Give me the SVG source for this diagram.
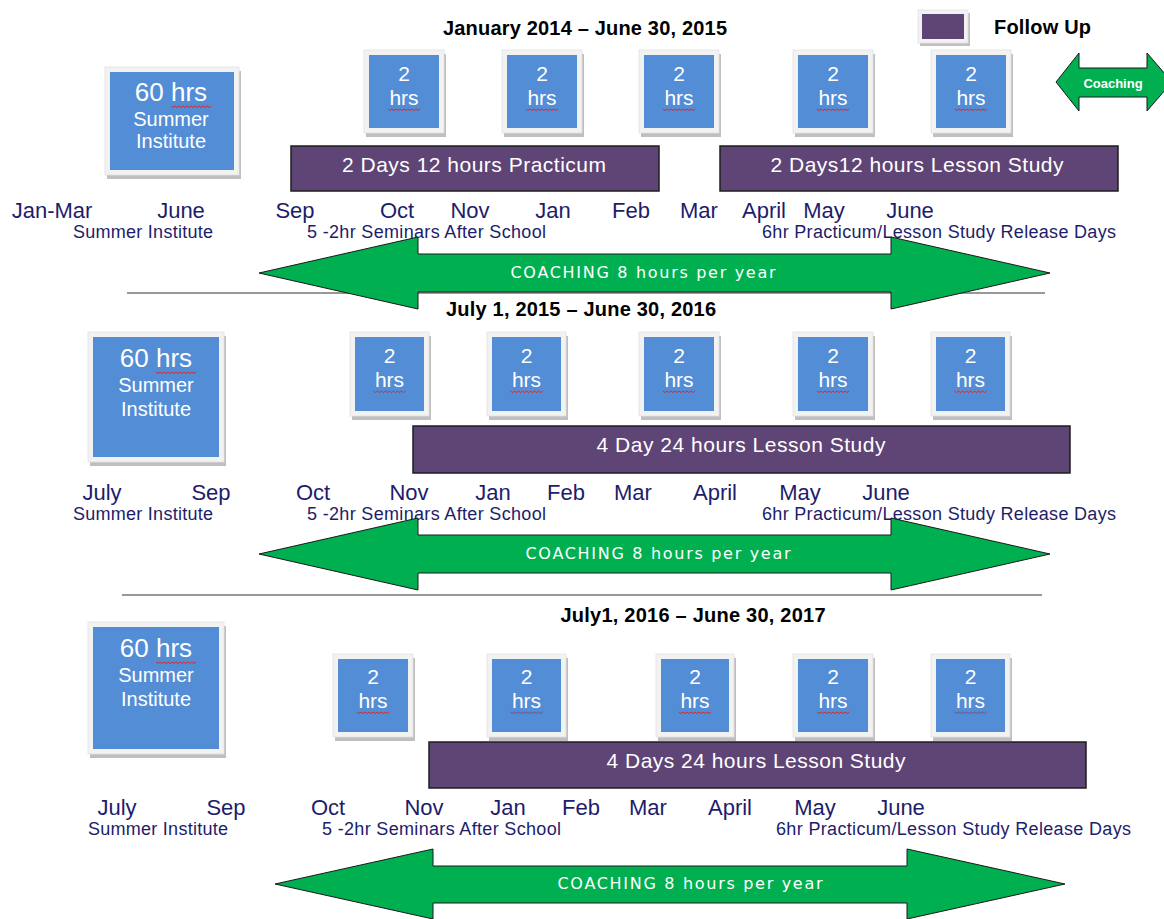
<svg xmlns="http://www.w3.org/2000/svg" xmlns:xlink="http://www.w3.org/1999/xlink" width="1164" height="919" viewBox="0 0 1164 919">
<style>
.shadow{fill:#bfbfbf}
.frame{fill:#f2f2f2;stroke:#e0e0e0;stroke-width:0.8}
.blue{fill:#538dd5}
.purple{fill:#5f4476;stroke:#1e1e1e;stroke-width:1.5}
.legend{fill:#5f4476}
.wt{fill:#fff;font-family:"Liberation Sans",Arial,sans-serif;text-anchor:middle}
.big{font-size:26px}
.mid{font-size:20px}
.two{font-size:21px}
.bar{font-size:21px}
.mon{fill:#1d1d6b;font-family:"Liberation Sans",Arial,sans-serif;font-size:22px;text-anchor:middle}
.sub{fill:#1d1d6b;font-family:"Liberation Sans",Arial,sans-serif;font-size:18px}
.ttl{fill:#000;font-family:"Liberation Sans",Arial,sans-serif;font-size:20px;font-weight:bold;text-anchor:middle}
.arrow{fill:#00b050;stroke:#1a1a1a;stroke-width:1}
.coach{fill:#fff;font-family:"Comic Sans MS","DejaVu Sans",sans-serif;font-size:16px;text-anchor:middle}
.sep{stroke:#333;stroke-width:1}
.wavy{fill:none;stroke:#e02828;stroke-width:1}
</style>
<defs>
<path id="wv" class="wavy" d="M0,0 l2,1.5 l2,-1.5 l2,1.5 l2,-1.5 l2,1.5 l2,-1.5 l2,1.5 l2,-1.5 l2,1.5 l2,-1.5 l2,1.5 l2,-1.5 l2,1.5 l2,-1.5 l2,1.5 l2,-1.5"/>
<path id="wv2" class="wavy" d="M0,0 l2,1.5 l2,-1.5 l2,1.5 l2,-1.5 l2,1.5 l2,-1.5 l2,1.5 l2,-1.5 l2,1.5 l2,-1.5 l2,1.5 l2,-1.5 l2,1.5 l2,-1.5 l2,1.5 l2,-1.5 l2,1.5 l2,-1.5 l2,1.5 l2,-1.5"/>
</defs>
<rect width="1164" height="919" fill="#fff"/>

<g id="connectors">
<line class="sep" x1="127" y1="293" x2="1045" y2="293"/>
<line class="sep" x1="122" y1="595" x2="1042" y2="595"/>
</g>

<g id="title1"><text class="ttl" x="585" y="35" textLength="284">January 2014 – June 30, 2015</text></g>
<g id="title2"><text class="ttl" x="581" y="316" textLength="270">July 1, 2015 – June 30, 2016</text></g>
<g id="title3"><text class="ttl" x="693" y="622" textLength="265">July1, 2016 – June 30, 2017</text></g>

<g id="legend-followup">
<rect class="shadow" x="920" y="13" width="50" height="33"/>
<rect class="frame" x="918" y="10" width="50" height="33"/>
<rect class="legend" x="922" y="14" width="42" height="25"/>
<text x="994" y="34" font-family="Liberation Sans, Arial, sans-serif" font-size="20" font-weight="bold" fill="#000" textLength="97">Follow Up</text>
</g>
<g id="legend-coaching">
<path class="arrow" d="M1056,82 L1079,53 L1079,68 L1147,68 L1147,53 L1172,82 L1147,111 L1147,97 L1079,97 L1079,111 Z"/>
<text x="1113" y="88" fill="#fff" font-family="Liberation Sans, Arial, sans-serif" font-size="13" font-weight="bold" text-anchor="middle">Coaching</text>
</g>

<g id="s1-summer">
<rect class="shadow" x="107" y="71" width="134" height="108"/>
<rect class="frame" x="105" y="67" width="134" height="108"/>
<rect class="blue" x="110" y="72" width="124" height="98"/>
<text class="wt big" x="171" y="101">60 hrs</text>
<use xlink:href="#wv2" x="171" y="106"/>
<text class="wt mid" x="171" y="126">Summer</text>
<text class="wt mid" x="171" y="148">Institute</text>
</g>
<g id="s1-b1"><rect class="shadow" x="366" y="54" width="80" height="83"/><rect class="frame" x="364" y="50" width="80" height="83"/><rect class="blue" x="369" y="55" width="70" height="73"/><text class="wt two" x="404" y="81">2</text><text class="wt two" x="404" y="105">hrs</text><use xlink:href="#wv" x="388" y="109"/></g>
<g id="s1-b2"><rect class="shadow" x="504" y="54" width="80" height="83"/><rect class="frame" x="502" y="50" width="80" height="83"/><rect class="blue" x="507" y="55" width="70" height="73"/><text class="wt two" x="542" y="81">2</text><text class="wt two" x="542" y="105">hrs</text><use xlink:href="#wv" x="526" y="109"/></g>
<g id="s1-b3"><rect class="shadow" x="641" y="54" width="80" height="83"/><rect class="frame" x="639" y="50" width="80" height="83"/><rect class="blue" x="644" y="55" width="70" height="73"/><text class="wt two" x="679" y="81">2</text><text class="wt two" x="679" y="105">hrs</text><use xlink:href="#wv" x="663" y="109"/></g>
<g id="s1-b4"><rect class="shadow" x="795" y="54" width="80" height="83"/><rect class="frame" x="793" y="50" width="80" height="83"/><rect class="blue" x="798" y="55" width="70" height="73"/><text class="wt two" x="833" y="81">2</text><text class="wt two" x="833" y="105">hrs</text><use xlink:href="#wv" x="817" y="109"/></g>
<g id="s1-b5"><rect class="shadow" x="933" y="54" width="80" height="83"/><rect class="frame" x="931" y="50" width="80" height="83"/><rect class="blue" x="936" y="55" width="70" height="73"/><text class="wt two" x="971" y="81">2</text><text class="wt two" x="971" y="105">hrs</text><use xlink:href="#wv" x="955" y="109"/></g>
<g id="s1-practicum"><rect class="purple" x="291" y="146" width="368" height="45"/><text class="wt bar" x="474" y="172" textLength="264">2 Days 12 hours Practicum</text></g>
<g id="s1-lesson"><rect class="purple" x="720" y="146" width="398" height="45"/><text class="wt bar" x="917" y="172" textLength="293">2 Days12 hours Lesson Study</text></g>
<g id="s1-months">
<text class="mon" x="52" y="218">Jan-Mar</text><text class="mon" x="181" y="218">June</text><text class="mon" x="295" y="218">Sep</text><text class="mon" x="397" y="218">Oct</text><text class="mon" x="470" y="218">Nov</text><text class="mon" x="553" y="218">Jan</text><text class="mon" x="631" y="218">Feb</text><text class="mon" x="699" y="218">Mar</text><text class="mon" x="764" y="218">April</text><text class="mon" x="824" y="218">May</text><text class="mon" x="910" y="218">June</text>
<text class="sub" x="73" y="238" textLength="140">Summer Institute</text>
<text class="sub" x="307" y="238" textLength="239">5 -2hr Seminars After School</text>
<text class="sub" x="762" y="238" textLength="354">6hr Practicum/Lesson Study Release Days</text>
</g>
<g id="s1-coaching">
<path class="arrow" d="M259,273 L418,237 L418,254 L891,254 L891,237 L1050,273 L891,309 L891,292 L418,292 L418,309 Z"/>
<text class="coach" x="643" y="278" textLength="265">COACHING 8 hours per year</text>
</g>

<g id="s2-summer">
<rect class="shadow" x="90" y="336" width="136" height="130"/>
<rect class="frame" x="88" y="332" width="136" height="130"/>
<rect class="blue" x="93" y="337" width="126" height="120"/>
<text class="wt big" x="156" y="367">60 hrs</text>
<use xlink:href="#wv2" x="156" y="372"/>
<text class="wt mid" x="156" y="392">Summer</text>
<text class="wt mid" x="156" y="416">Institute</text>
</g>
<g id="s2-b1"><rect class="shadow" x="352" y="336" width="79" height="84"/><rect class="frame" x="350" y="332" width="79" height="84"/><rect class="blue" x="355" y="337" width="69" height="74"/><text class="wt two" x="389.5" y="363">2</text><text class="wt two" x="389.5" y="387">hrs</text><use xlink:href="#wv" x="373.5" y="391"/></g>
<g id="s2-b2"><rect class="shadow" x="489" y="336" width="79" height="84"/><rect class="frame" x="487" y="332" width="79" height="84"/><rect class="blue" x="492" y="337" width="69" height="74"/><text class="wt two" x="526.5" y="363">2</text><text class="wt two" x="526.5" y="387">hrs</text><use xlink:href="#wv" x="510.5" y="391"/></g>
<g id="s2-b3"><rect class="shadow" x="641" y="336" width="80" height="84"/><rect class="frame" x="639" y="332" width="80" height="84"/><rect class="blue" x="644" y="337" width="70" height="74"/><text class="wt two" x="679" y="363">2</text><text class="wt two" x="679" y="387">hrs</text><use xlink:href="#wv" x="663" y="391"/></g>
<g id="s2-b4"><rect class="shadow" x="795" y="336" width="80" height="84"/><rect class="frame" x="793" y="332" width="80" height="84"/><rect class="blue" x="798" y="337" width="70" height="74"/><text class="wt two" x="833" y="363">2</text><text class="wt two" x="833" y="387">hrs</text><use xlink:href="#wv" x="817" y="391"/></g>
<g id="s2-b5"><rect class="shadow" x="933" y="336" width="79" height="84"/><rect class="frame" x="931" y="332" width="79" height="84"/><rect class="blue" x="936" y="337" width="69" height="74"/><text class="wt two" x="970.5" y="363">2</text><text class="wt two" x="970.5" y="387">hrs</text><use xlink:href="#wv" x="954.5" y="391"/></g>
<g id="s2-lesson"><rect class="purple" x="413" y="426" width="657" height="47"/><text class="wt bar" x="741" y="452" textLength="289">4 Day 24 hours Lesson Study</text></g>
<g id="s2-months">
<text class="mon" x="102" y="500">July</text><text class="mon" x="211" y="500">Sep</text><text class="mon" x="313" y="500">Oct</text><text class="mon" x="409" y="500">Nov</text><text class="mon" x="493" y="500">Jan</text><text class="mon" x="566" y="500">Feb</text><text class="mon" x="633" y="500">Mar</text><text class="mon" x="715" y="500">April</text><text class="mon" x="800" y="500">May</text><text class="mon" x="886" y="500">June</text>
<text class="sub" x="73" y="520" textLength="140">Summer Institute</text>
<text class="sub" x="307" y="520" textLength="239">5 -2hr Seminars After School</text>
<text class="sub" x="762" y="520" textLength="354">6hr Practicum/Lesson Study Release Days</text>
</g>
<g id="s2-coaching">
<path class="arrow" d="M259,554 L418,518 L418,535 L891,535 L891,518 L1050,554 L891,590 L891,573 L418,573 L418,590 Z"/>
<text class="coach" x="658" y="559" textLength="265">COACHING 8 hours per year</text>
</g>

<g id="s3-summer">
<rect class="shadow" x="90" y="626" width="136" height="132"/>
<rect class="frame" x="88" y="622" width="136" height="132"/>
<rect class="blue" x="93" y="627" width="126" height="122"/>
<text class="wt big" x="156" y="657">60 hrs</text>
<use xlink:href="#wv2" x="156" y="662"/>
<text class="wt mid" x="156" y="682">Summer</text>
<text class="wt mid" x="156" y="706">Institute</text>
</g>
<g id="s3-b1"><rect class="shadow" x="335" y="658" width="80" height="83"/><rect class="frame" x="333" y="654" width="80" height="83"/><rect class="blue" x="338" y="659" width="70" height="73"/><text class="wt two" x="373" y="684">2</text><text class="wt two" x="373" y="708">hrs</text><use xlink:href="#wv" x="357" y="712"/></g>
<g id="s3-b2"><rect class="shadow" x="489" y="658" width="79" height="83"/><rect class="frame" x="487" y="654" width="79" height="83"/><rect class="blue" x="492" y="659" width="69" height="73"/><text class="wt two" x="526.5" y="684">2</text><text class="wt two" x="526.5" y="708">hrs</text><use xlink:href="#wv" x="510.5" y="712"/></g>
<g id="s3-b3"><rect class="shadow" x="658" y="658" width="78" height="83"/><rect class="frame" x="656" y="654" width="78" height="83"/><rect class="blue" x="661" y="659" width="68" height="73"/><text class="wt two" x="695" y="684">2</text><text class="wt two" x="695" y="708">hrs</text><use xlink:href="#wv" x="679" y="712"/></g>
<g id="s3-b4"><rect class="shadow" x="795" y="658" width="80" height="83"/><rect class="frame" x="793" y="654" width="80" height="83"/><rect class="blue" x="798" y="659" width="70" height="73"/><text class="wt two" x="833" y="684">2</text><text class="wt two" x="833" y="708">hrs</text><use xlink:href="#wv" x="817" y="712"/></g>
<g id="s3-b5"><rect class="shadow" x="933" y="658" width="79" height="83"/><rect class="frame" x="931" y="654" width="79" height="83"/><rect class="blue" x="936" y="659" width="69" height="73"/><text class="wt two" x="970.5" y="684">2</text><text class="wt two" x="970.5" y="708">hrs</text><use xlink:href="#wv" x="954.5" y="712"/></g>
<g id="s3-lesson"><rect class="purple" x="429" y="742" width="657" height="46"/><text class="wt bar" x="756" y="768" textLength="299">4 Days 24 hours Lesson Study</text></g>
<g id="s3-months">
<text class="mon" x="117" y="815">July</text><text class="mon" x="226" y="815">Sep</text><text class="mon" x="328" y="815">Oct</text><text class="mon" x="424" y="815">Nov</text><text class="mon" x="508" y="815">Jan</text><text class="mon" x="581" y="815">Feb</text><text class="mon" x="648" y="815">Mar</text><text class="mon" x="730" y="815">April</text><text class="mon" x="815" y="815">May</text><text class="mon" x="901" y="815">June</text>
<text class="sub" x="88" y="835" textLength="140">Summer Institute</text>
<text class="sub" x="322" y="835" textLength="239">5 -2hr Seminars After School</text>
<text class="sub" x="776" y="835" textLength="355">6hr Practicum/Lesson Study Release Days</text>
</g>
<g id="s3-coaching">
<path class="arrow" d="M275,884 L433,849 L433,866 L907,866 L907,849 L1065,884 L907,919 L907,903 L433,903 L433,919 Z"/>
<text class="coach" x="690" y="889" textLength="265">COACHING 8 hours per year</text>
</g>
</svg>
